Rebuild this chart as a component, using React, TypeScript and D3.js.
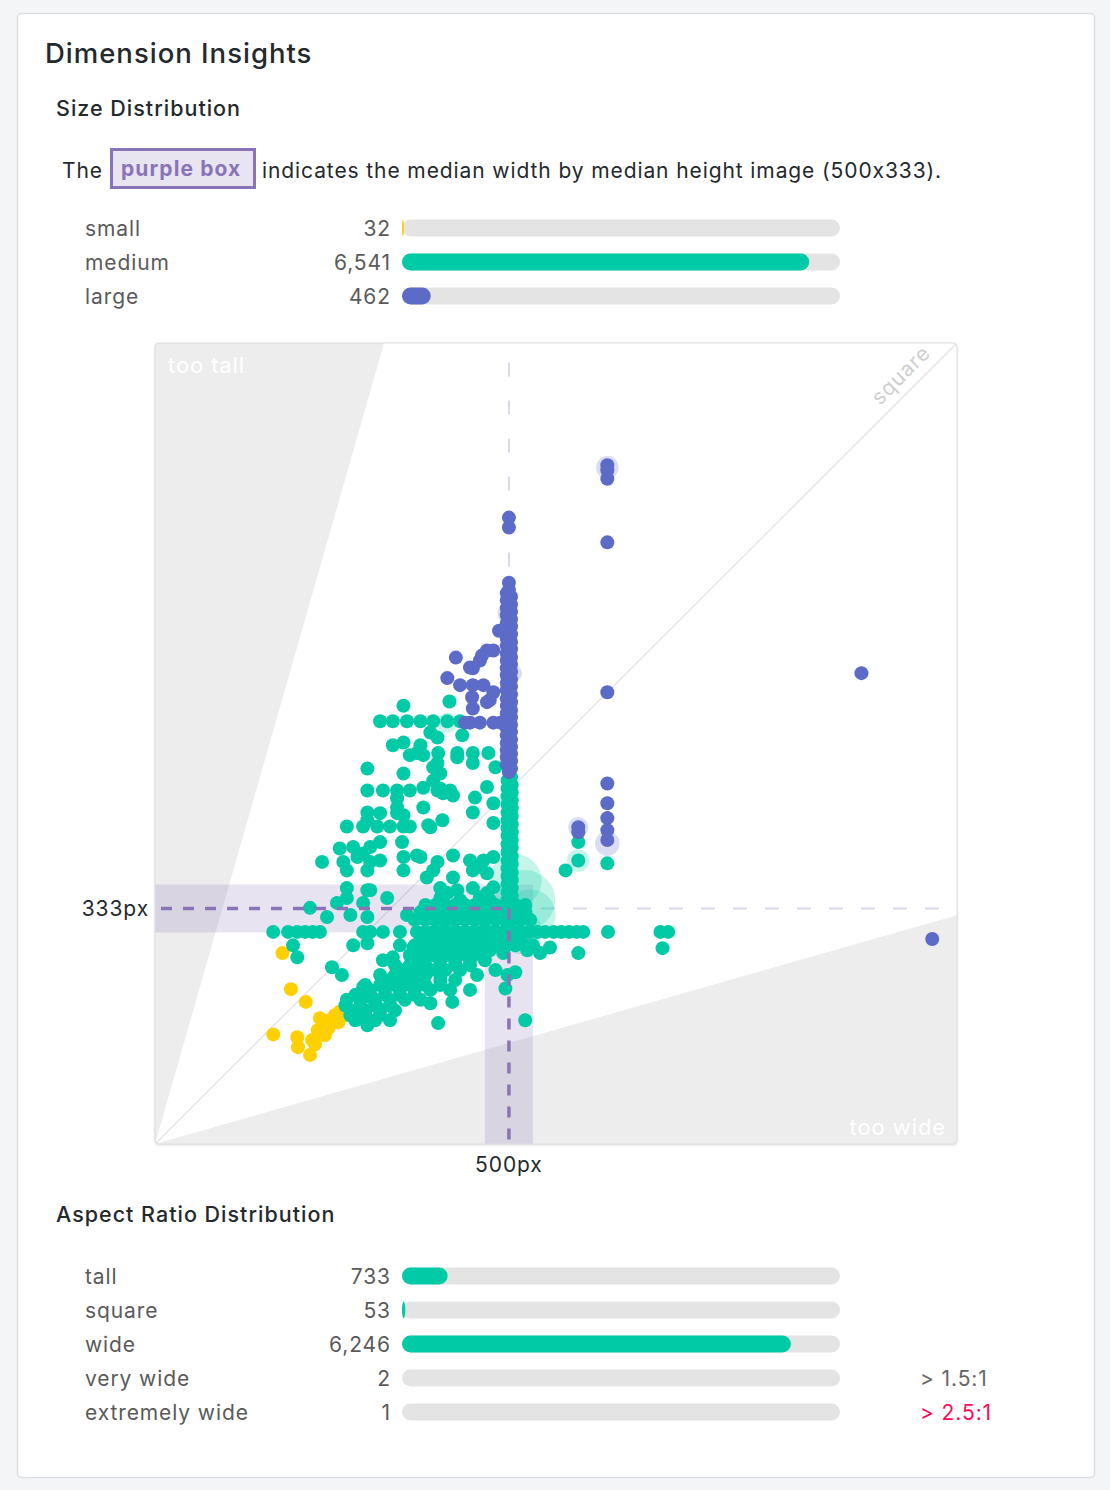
import React from "react";
import * as d3 from "d3";

// ---------- data ----------
const sizeLabels = ["small", "medium", "large"];
const sizeValues = [32, 6541, 462];
const aspectLabels = ["tall", "square", "wide", "very wide", "extremely wide"];
const aspectValues = [733, 53, 6246, 2, 1];
const aspectNotes = ["", "", "", "> 1.5:1", "> 2.5:1"];

const medianWidth = 500;
const medianHeight = 333;
const axisMax = 1133;
const tooWideRatio = 3.5;

// [width, height] in image pixels
const smallPoints: [number, number][] = [
  [180, 270], [192, 219], [213, 201], [167, 155], [201, 151], [202, 137], [219, 126],
  [226, 141], [230, 161], [237, 168], [247, 175], [254, 182], [261, 187], [240, 154],
  [233, 178], [269, 182], [245, 164], [222, 147], [259, 172],
];

const mediumPoints: [number, number][] = [
  [351, 620], [416, 626], [318, 598], [336, 598], [356, 598], [375, 598], [393, 598], [413, 598], [431, 598],
  [389, 582], [399, 575], [434, 578], [336, 564], [351, 568], [375, 564], [370, 553], [400, 553], [427, 553],
  [449, 553], [471, 553], [360, 550], [379, 550], [399, 539], [393, 533], [403, 524], [427, 547], [449, 539],
  [481, 533], [300, 531], [351, 524],
  [300, 500], [322, 500], [342, 500], [360, 500], [379, 504], [399, 500], [417, 500],
  [393, 514], [407, 496], [421, 493], [403, 503], [342, 489], [342, 476], [379, 476], [452, 490], [449, 469],
  [469, 505], [478, 482], [478, 454],
  [300, 469], [318, 468], [342, 468], [351, 465],
  [271, 449], [294, 449], [314, 449], [332, 449], [351, 449], [360, 449],
  [300, 458], [386, 451], [389, 448], [406, 458],
  [261, 418], [280, 420], [294, 411], [304, 420], [318, 427], [349, 427], [351, 406], [351, 387], [370, 408], [375, 406],
  [236, 399], [266, 399], [271, 387], [286, 406], [300, 387], [304, 399], [318, 401], [399, 399], [384, 377], [393, 387],
  [421, 408], [421, 377], [445, 401], [449, 387], [464, 401], [478, 406], [469, 383], [459, 392],
  [271, 362], [271, 348], [257, 341], [294, 341], [300, 359], [304, 359], [328, 348], [403, 362], [403, 348],
  [427, 359], [449, 362], [459, 349], [469, 355],
  [219, 334], [243, 321], [276, 324], [300, 321], [356, 324], [413, 355], [431, 345], [478, 363], [473, 345],
  [393, 335], [421, 335], [441, 334],
  [167, 300], [188, 300], [201, 300], [212, 300], [223, 300], [233, 300], [294, 300], [304, 300], [322, 300],
  [346, 300], [370, 300], [382, 300], [393, 300], [404, 300], [416, 300], [427, 300], [438, 300], [449, 300],
  [461, 300], [472, 300], [483, 300], [495, 300], [506, 300], [517, 300], [529, 300], [540, 300], [551, 300],
  [563, 300], [574, 300], [585, 300], [596, 300], [605, 300], [640, 300], [714, 300], [725, 300], [717, 277],
  [195, 281], [201, 264], [280, 281], [300, 284], [346, 281], [365, 278], [250, 250], [264, 239], [322, 260],
  [336, 264], [598, 270], [534, 281], [526, 274], [544, 270], [558, 278], [492, 270], [481, 246], [498, 239],
  [509, 243], [495, 220], [523, 175], [400, 171], [420, 201], [389, 199], [445, 218], [455, 239], [300, 168],
  [271, 204], [286, 189], [304, 208], [314, 194], [294, 222], [322, 228],
  [382, 338], [396, 338], [410, 338], [424, 338], [438, 338], [452, 338], [466, 338], [481, 338], [495, 338], [509, 338], [523, 338],
  [375, 328], [389, 328], [403, 328], [417, 328], [431, 328], [445, 328], [459, 328], [473, 328], [488, 328], [509, 328], [523, 328],
  [367, 317], [382, 317], [396, 317], [410, 317], [424, 317], [438, 317], [452, 317], [466, 317], [481, 317], [495, 317], [516, 317], [530, 317],
  [375, 288], [389, 288], [403, 288], [417, 288], [431, 288], [445, 288], [459, 288], [473, 288], [488, 288], [502, 288], [516, 288],
  [367, 281], [382, 281], [396, 281], [410, 281], [424, 281], [438, 281], [452, 281], [466, 281], [481, 281], [495, 281], [509, 281], [523, 281],
  [389, 274], [410, 274], [424, 274], [438, 274], [459, 274], [473, 274],
  [360, 267], [377, 267], [394, 267], [411, 267], [428, 267], [445, 267], [462, 267],
  [375, 260], [403, 260], [424, 260], [445, 260], [466, 260],
  [339, 253], [360, 253], [382, 253], [403, 253], [424, 253], [445, 253],
  [346, 246], [367, 246], [389, 246], [410, 246], [431, 246],
  [318, 239], [339, 239], [360, 239], [382, 239], [403, 239],
  [332, 232], [353, 232], [375, 232], [403, 232], [424, 232],
  [297, 225], [318, 225], [339, 225], [360, 225], [382, 225], [403, 225],
  [304, 218], [325, 218], [346, 218], [367, 218], [389, 218], [417, 218],
  [283, 211], [304, 211], [325, 211], [346, 211], [367, 211],
  [290, 204], [311, 204], [332, 204], [353, 204], [375, 204],
  [269, 196], [290, 196], [311, 196], [332, 196],
  [276, 189], [297, 189], [318, 189], [339, 189],
  [276, 182], [297, 182], [318, 182],
  [283, 175], [311, 175], [332, 175],
  [503, 519], [498, 514], [504, 508], [498, 503], [504, 497], [498, 492], [504, 486], [498, 481], [504, 475],
  [498, 469], [504, 464], [498, 458], [504, 452], [498, 447], [504, 441], [498, 436], [504, 430], [498, 424],
  [504, 419], [498, 413], [504, 407], [498, 401], [504, 396], [498, 390], [504, 384], [498, 379], [504, 373],
  [498, 368], [504, 362], [498, 356], [504, 351], [498, 345], [504, 340], [498, 334], [504, 328], [498, 322], [504, 317], [498, 311],
  [639, 397], [598, 427], [598, 401], [580, 387],
];

const largePoints: [number, number][] = [
  [639, 960], [639, 953], [639, 941], [500, 886], [500, 872], [639, 851], [500, 794],
  [500, 784], [497, 779], [503, 774], [497, 769], [503, 763], [497, 758], [503, 753], [497, 748], [503, 742],
  [497, 737], [503, 732], [497, 727], [503, 721], [497, 715], [503, 710], [497, 705], [503, 700], [497, 694],
  [503, 689], [497, 684], [503, 679], [497, 673], [503, 668], [497, 663], [503, 657], [497, 652], [503, 647],
  [497, 642], [503, 636], [497, 630], [503, 625], [497, 620], [503, 614], [497, 609], [503, 604], [497, 599],
  [503, 593], [497, 588], [503, 583], [497, 578], [503, 572], [497, 567], [503, 562], [497, 557], [503, 552],
  [497, 547], [503, 542], [497, 537], [503, 531], [500, 526],
  [639, 639], [998, 666], [1098, 290], [639, 510], [639, 482], [639, 461], [639, 444], [639, 430], [598, 448], [598, 441],
  [486, 726], [425, 688], [462, 691], [478, 698], [469, 698], [459, 684], [445, 674], [449, 673], [413, 659],
  [431, 649], [449, 649], [464, 649], [448, 632], [478, 639], [473, 628], [469, 625], [449, 616],
  [438, 596], [445, 596], [459, 596], [478, 596], [488, 596],
];

// [width, height, count]
const smallHalos: [number, number, number][] = [];
const mediumHalos: [number, number, number][] = [
  [509, 373, 30], [523, 345, 40], [530, 324, 28], [516, 300, 20], [598, 401, 4], [413, 596, 3],
];
const largeHalos: [number, number, number][] = [
  [639, 957, 4], [639, 425, 5], [598, 448, 3], [498, 751, 3], [506, 666, 2],
];

// ---------- styling ----------
const FONT = "Inter, 'Noto Sans', sans-serif";
const YELLOW = "#ffd000";
const GREEN = "#00cba6";
const BLUE = "#5c6bc7";
const PURPLE = "#8a74b8";
const TEXT = "#24292e";
const GREY_TEXT = "#5a5a5a";
const DOT_R = 7;

const W = 1110;
const H = 1490;

function BarRows({ labels, values, colors, notes, top }: any) {
  const total = d3.sum(values as number[]);
  const bx = d3.scaleLinear().domain([0, total]).range([0, 438]);
  const fmt = d3.format(",");
  const rowStep = 34;
  return (
    <g>
      {labels.map((lab: string, i: number) => {
        const cy = top + i * rowStep;
        const w = bx(values[i]);
        return (
          <g key={lab}>
            <text x={85} y={cy + 8} fontSize={21} fill={GREY_TEXT}>{lab}</text>
            <text x={391} y={cy + 8} fontSize={21} fill={GREY_TEXT} textAnchor="end">{fmt(values[i])}</text>
            <rect x={402} y={cy - 8.5} width={438} height={17} rx={8.5} ry={8.5} fill="#e4e4e4" />
            {w >= 1 && <rect x={402} y={cy - 8.5} width={w} height={17} rx={8.5} ry={8.5} fill={colors[i]} />}
            {notes && notes[i] && (
              <text x={920} y={cy + 8} fontSize={21} fill={i === 4 ? "#ff0a54" : "#666"}>{notes[i]}</text>
            )}
          </g>
        );
      })}
    </g>
  );
}

export default function App() {
  const x = d3.scaleLinear().domain([0, axisMax]).range([155, 957]);
  const y = d3.scaleLinear().domain([0, axisMax]).range([1144, 343]);
  const r = d3.scaleSqrt().domain([1, 40]).range([DOT_R, 30]);

  const mx = x(medianWidth);
  const my = y(medianHeight);
  const band = 24;

  const tallPoly = [[0, 0], [0, axisMax], [axisMax / tooWideRatio, axisMax]]
    .map(([a, b]) => `${x(a)},${y(b)}`).join(" ");
  const widePoly = [[0, 0], [axisMax, 0], [axisMax, axisMax / tooWideRatio]]
    .map(([a, b]) => `${x(a)},${y(b)}`).join(" ");

  const bandPath = `M${x(0)},${my - band} L${mx + band},${my - band} L${mx + band},${y(0)} L${mx - band},${y(0)} L${mx - band},${my + band} L${x(0)},${my + band} Z`;

  const groups = [
    { pts: smallPoints, halos: smallHalos, color: YELLOW },
    { pts: mediumPoints, halos: mediumHalos, color: GREEN },
    { pts: largePoints, halos: largeHalos, color: BLUE },
  ];

  return (
    <svg width={W} height={H} style={{ position: "absolute", left: 0, top: 0, fontFeatureSettings: "'calt' 0" }}
      fontFamily={FONT} letterSpacing={0.9}>
      <defs>
        <clipPath id="plotClip">
          <rect x={155} y={343} width={802} height={801} rx={4} />
        </clipPath>
        <filter id="shadow" x="-5%" y="-5%" width="110%" height="110%">
          <feDropShadow dx="0" dy="1" stdDeviation="1.5" floodColor="#000" floodOpacity="0.15" />
        </filter>
      </defs>
      <rect x={0} y={0} width={W} height={H} fill="#f4f5f7" />
      <rect x={17.5} y={13.5} width={1077} height={1464} rx={4} fill="#fff" stroke="#dcdee4" strokeWidth={1.5} />

      <text x={45} y={63} fontSize={27.5} fontWeight={500} fill={TEXT} letterSpacing={1}>Dimension Insights</text>
      <text x={56} y={116} fontSize={21.5} fontWeight={500} fill={TEXT} letterSpacing={1}>Size Distribution</text>

      <text x={62} y={178} fontSize={21} fill={TEXT}>The</text>
      <rect x={111.5} y={149.5} width={143} height={38} fill="#e8e5f1" stroke={PURPLE} strokeWidth={3} />
      <text x={121} y={176} fontSize={21} fontWeight={700} fill={PURPLE} letterSpacing={1.1}>purple box</text>
      <text x={262} y={178} fontSize={21} fill={TEXT}>indicates the median width by median height image (500x333).</text>

      <BarRows labels={sizeLabels} values={sizeValues} colors={[YELLOW, GREEN, BLUE]} top={228} />

      {/* scatter */}
      <rect x={155} y={343} width={802} height={801} rx={4} fill="#fff" filter="url(#shadow)" />
      <g clipPath="url(#plotClip)">
        <polygon points={tallPoly} fill="#ededed" />
        <polygon points={widePoly} fill="#ededed" />
        <line x1={x(0)} y1={y(0)} x2={x(axisMax)} y2={y(axisMax)} stroke="#e6e6e6" strokeWidth={1.5} />
        <path d={bandPath} fill={PURPLE} fillOpacity={0.2} />
        <line x1={mx} y1={my} x2={x(axisMax)} y2={my} stroke="#dcd6ec" strokeWidth={2} strokeDasharray="14,18" />
        <line x1={mx} y1={my} x2={mx} y2={y(axisMax) + 17} stroke="#dcd6ec" strokeWidth={2} strokeDasharray="14,24" />
        {groups.map((g, gi) => (
          <g key={gi}>
            {g.halos.map((h, i) => (
              <circle key={"h" + i} cx={x(h[0])} cy={y(h[1])} r={r(h[2])} fill={g.color} fillOpacity={0.22} />
            ))}
            {g.pts.map((p, i) => (
              <circle key={i} cx={x(p[0])} cy={y(p[1])} r={DOT_R} fill={g.color} />
            ))}
          </g>
        ))}
        <line x1={x(0) + 6} y1={my} x2={mx} y2={my} stroke={PURPLE} strokeWidth={3.5} strokeDasharray="11,11" />
        <line x1={mx} y1={my} x2={mx} y2={y(0)} stroke={PURPLE} strokeWidth={3.5} strokeDasharray="11,11" />
        <text x={168} y={373} fontSize={22} fill="#fff">too tall</text>
        <text x={946} y={1135} fontSize={22} fill="#fff" textAnchor="end">too wide</text>
        <text transform={`translate(${x(axisMax * 0.945) - 7},${y(axisMax * 0.945) - 7}) rotate(-45)`} fontSize={21} fill="#cfcfcf" textAnchor="middle">square</text>
      </g>
      <rect x={155} y={343} width={802} height={801} rx={4} fill="none" stroke="#dedede" strokeWidth={1} />

      <text x={149} y={916} fontSize={21} fill={TEXT} textAnchor="end">{medianHeight}px</text>
      <text x={mx} y={1172} fontSize={21} fill={TEXT} textAnchor="middle">{medianWidth}px</text>

      <text x={56} y={1222} fontSize={21.5} fontWeight={500} fill={TEXT} letterSpacing={1}>Aspect Ratio Distribution</text>
      <BarRows labels={aspectLabels} values={aspectValues} colors={[GREEN, GREEN, GREEN, GREEN, GREEN]} notes={aspectNotes} top={1276} />
    </svg>
  );
}
